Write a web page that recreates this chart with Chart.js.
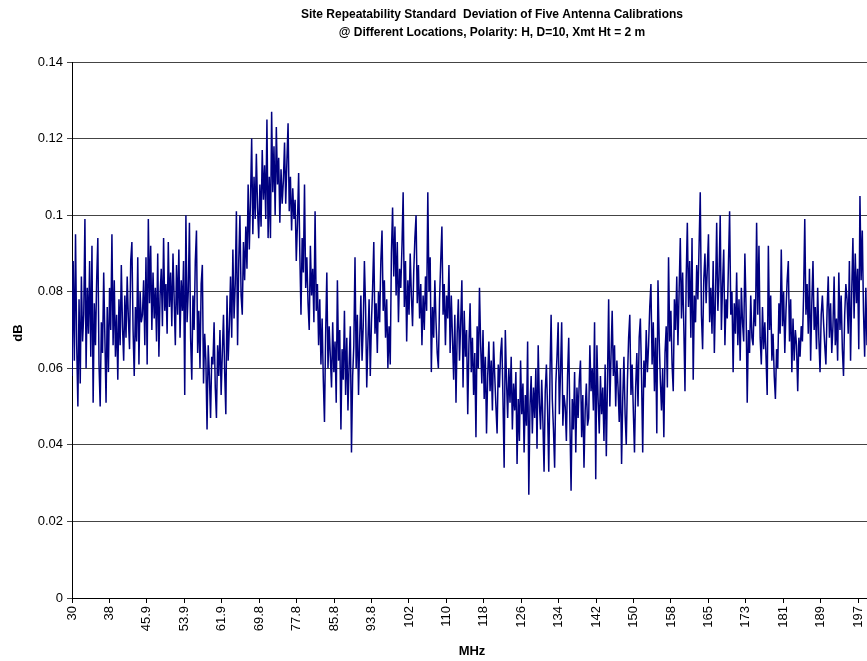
<!DOCTYPE html>
<html>
<head>
<meta charset="utf-8">
<script src="https://cdn.jsdelivr.net/npm/chart.js@4.4.1/dist/chart.umd.min.js"></script>
<style>
  body { margin: 0; background: #fff; }
  canvas { display: block; }
</style>
</head>
<body>
<canvas id="chartCanvas" width="867" height="661"></canvas>
<script>
// sweep: 30 MHz upward in 0.25 MHz steps
const FREQ_START = 30;
const FREQ_STEP = 0.25;

// standard deviation in dB, one row per 5 MHz
const stdDevDb = [
    0.058, 0.088, 0.062, 0.095, 0.066, 0.050, 0.078, 0.056, 0.084, 0.067, 0.074, 0.099, 0.060, 0.081, 0.069, 0.088, 0.063, 0.092, 0.051, 0.077,
    0.066, 0.083, 0.094, 0.061, 0.050, 0.072, 0.064, 0.085, 0.068, 0.051, 0.076, 0.059, 0.081, 0.070, 0.095, 0.066, 0.083, 0.063, 0.074, 0.057,
    0.078, 0.066, 0.087, 0.071, 0.062, 0.079, 0.068, 0.084, 0.073, 0.065, 0.088, 0.093, 0.070, 0.058, 0.076, 0.067, 0.089, 0.061, 0.080, 0.072,
    0.074, 0.083, 0.066, 0.089, 0.061, 0.099, 0.077, 0.092, 0.070, 0.085, 0.073, 0.081, 0.067, 0.090, 0.063, 0.079, 0.086, 0.071, 0.094, 0.075,
    0.082, 0.069, 0.093, 0.076, 0.085, 0.071, 0.090, 0.078, 0.066, 0.087, 0.074, 0.091, 0.068, 0.083, 0.075, 0.088, 0.053, 0.100, 0.072, 0.080,
    0.098, 0.068, 0.057, 0.079, 0.070, 0.088, 0.096, 0.064, 0.075, 0.060, 0.082, 0.087, 0.056, 0.069, 0.062, 0.044, 0.066, 0.058, 0.047, 0.063,
    0.061, 0.072, 0.055, 0.047, 0.066, 0.058, 0.070, 0.053, 0.064, 0.074, 0.059, 0.048, 0.079, 0.062, 0.071, 0.084, 0.068, 0.091, 0.073, 0.082,
    0.101, 0.066, 0.088, 0.100, 0.079, 0.074, 0.093, 0.083, 0.097, 0.086, 0.108, 0.091, 0.104, 0.120, 0.095, 0.110, 0.099, 0.116, 0.102, 0.094,
    0.108, 0.097, 0.117, 0.104, 0.113, 0.099, 0.125, 0.094, 0.110, 0.094, 0.127, 0.106, 0.118, 0.100, 0.123, 0.108, 0.115, 0.098, 0.112, 0.103,
    0.109, 0.119, 0.103, 0.114, 0.124, 0.101, 0.110, 0.096, 0.107, 0.099, 0.104, 0.088, 0.098, 0.111, 0.090, 0.074, 0.094, 0.085, 0.108, 0.081,
    0.089, 0.077, 0.070, 0.092, 0.079, 0.086, 0.072, 0.101, 0.075, 0.082, 0.066, 0.078, 0.061, 0.073, 0.057, 0.046, 0.069, 0.085, 0.060, 0.071,
    0.063, 0.055, 0.072, 0.059, 0.067, 0.051, 0.083, 0.062, 0.070, 0.044, 0.065, 0.057, 0.075, 0.053, 0.068, 0.049, 0.061, 0.071, 0.038, 0.058,
    0.066, 0.089, 0.060, 0.074, 0.053, 0.068, 0.079, 0.062, 0.071, 0.088, 0.076, 0.055, 0.067, 0.078, 0.058, 0.072, 0.081, 0.093, 0.069, 0.077,
    0.064, 0.080, 0.072, 0.088, 0.096, 0.075, 0.083, 0.068, 0.078, 0.060, 0.071, 0.061, 0.090, 0.102, 0.084, 0.097, 0.079, 0.093, 0.072, 0.086,
    0.081, 0.092, 0.106, 0.076, 0.088, 0.067, 0.083, 0.074, 0.090, 0.079, 0.071, 0.085, 0.094, 0.100, 0.077, 0.087, 0.073, 0.082, 0.066, 0.079,
    0.070, 0.084, 0.075, 0.106, 0.080, 0.089, 0.059, 0.076, 0.068, 0.083, 0.072, 0.064, 0.060, 0.078, 0.088, 0.097, 0.074, 0.082, 0.066, 0.079,
    0.073, 0.087, 0.064, 0.079, 0.068, 0.057, 0.074, 0.051, 0.069, 0.078, 0.062, 0.072, 0.083, 0.055, 0.075, 0.063, 0.070, 0.048, 0.066, 0.077,
    0.059, 0.068, 0.053, 0.064, 0.042, 0.071, 0.060, 0.081, 0.066, 0.056, 0.070, 0.052, 0.063, 0.043, 0.058, 0.067, 0.054, 0.062, 0.049, 0.067,
    0.058, 0.050, 0.043, 0.061, 0.055, 0.064, 0.068, 0.052, 0.034, 0.070, 0.057, 0.047, 0.060, 0.051, 0.063, 0.044, 0.056, 0.049, 0.059, 0.035,
    0.052, 0.041, 0.062, 0.048, 0.056, 0.038, 0.053, 0.045, 0.067, 0.027, 0.050, 0.058, 0.043, 0.055, 0.047, 0.060, 0.039, 0.066, 0.051, 0.044,
    0.057, 0.046, 0.033, 0.054, 0.061, 0.049, 0.033, 0.058, 0.074, 0.052, 0.044, 0.034, 0.056, 0.063, 0.072, 0.048, 0.059, 0.072, 0.045, 0.053,
    0.050, 0.041, 0.058, 0.068, 0.046, 0.028, 0.052, 0.044, 0.059, 0.038, 0.055, 0.047, 0.057, 0.062, 0.042, 0.053, 0.034, 0.049, 0.056, 0.045,
    0.047, 0.066, 0.054, 0.060, 0.049, 0.072, 0.031, 0.066, 0.052, 0.043, 0.058, 0.048, 0.055, 0.041, 0.061, 0.037, 0.057, 0.078, 0.050, 0.063,
    0.075, 0.058, 0.066, 0.050, 0.062, 0.055, 0.046, 0.060, 0.035, 0.052, 0.063, 0.048, 0.040, 0.057, 0.068, 0.074, 0.053, 0.061, 0.049, 0.038,
    0.055, 0.064, 0.050, 0.068, 0.073, 0.058, 0.038, 0.062, 0.055, 0.070, 0.059, 0.066, 0.076, 0.082, 0.061, 0.072, 0.054, 0.068, 0.043, 0.083,
    0.068, 0.057, 0.049, 0.060, 0.042, 0.064, 0.071, 0.055, 0.089, 0.067, 0.075, 0.061, 0.054, 0.078, 0.070, 0.084, 0.066, 0.080, 0.094, 0.073,
    0.085, 0.071, 0.054, 0.083, 0.098, 0.076, 0.088, 0.068, 0.094, 0.057, 0.079, 0.072, 0.087, 0.078, 0.092, 0.106, 0.074, 0.065, 0.083, 0.090,
    0.077, 0.086, 0.095, 0.072, 0.081, 0.069, 0.088, 0.064, 0.079, 0.098, 0.075, 0.084, 0.100, 0.070, 0.082, 0.091, 0.066, 0.078, 0.073, 0.087,
    0.101, 0.074, 0.080, 0.059, 0.077, 0.069, 0.085, 0.066, 0.078, 0.062, 0.081, 0.072, 0.067, 0.090, 0.076, 0.051, 0.070, 0.064, 0.079, 0.068,
    0.066, 0.078, 0.071, 0.098, 0.074, 0.092, 0.068, 0.061, 0.076, 0.065, 0.072, 0.063, 0.053, 0.092, 0.070, 0.079, 0.062, 0.069, 0.058, 0.052,
    0.065, 0.060, 0.077, 0.069, 0.091, 0.071, 0.080, 0.064, 0.075, 0.083, 0.088, 0.067, 0.078, 0.059, 0.073, 0.062, 0.070, 0.066, 0.054, 0.068,
    0.063, 0.071, 0.067, 0.079, 0.099, 0.074, 0.082, 0.069, 0.086, 0.062, 0.077, 0.088, 0.070, 0.076, 0.065, 0.081, 0.068, 0.059, 0.074, 0.079,
    0.072, 0.066, 0.061, 0.075, 0.084, 0.068, 0.077, 0.064, 0.071, 0.084, 0.066, 0.073, 0.062, 0.085, 0.070, 0.079, 0.065, 0.058, 0.074, 0.082,
    0.078, 0.069, 0.088, 0.062, 0.080, 0.094, 0.073, 0.090, 0.077, 0.086, 0.065, 0.105, 0.083, 0.096, 0.075, 0.063, 0.081, 0.066
];

// category axis labels shown by the original (every 80th-ish point) and where they sit
const xTickLabels = ['30', '38', '45.9', '53.9', '61.9', '69.8', '77.8', '85.8', '93.8', '102', '110',
    '118', '126', '134', '142', '150', '158', '165', '173', '181', '189', '197'];
const xTickFreqs = [30, 37.97, 45.94, 53.91, 61.88, 69.85, 77.82, 85.79, 93.76, 101.73, 109.70,
    117.66, 125.63, 133.60, 141.57, 149.54, 157.51, 165.48, 173.45, 181.42, 189.39, 197.36];
const yTickValues = [0, 0.02, 0.04, 0.06, 0.08, 0.1, 0.12, 0.14];
const yTickLabels = ['0', '0.02', '0.04', '0.06', '0.08', '0.1', '0.12', '0.14'];

const titleLines = ['Site Repeatability Standard  Deviation of Five Antenna Calibrations',
    '@ Different Locations, Polarity: H, D=10, Xmt Ht = 2 m'];

const FONT = '"Liberation Sans", Arial, sans-serif';

const points = stdDevDb.map((v, i) => ({ x: FREQ_START + i * FREQ_STEP, y: v }));

const textPlugin = {
    id: 'texts',
    afterDraw(chart) {
        const ctx = chart.ctx;
        ctx.save();
        ctx.fillStyle = '#000';
        ctx.textAlign = 'center';
        ctx.textBaseline = 'middle';
        ctx.font = 'bold 12px ' + FONT;
        ctx.fillText(titleLines[0], 492, 15);
        ctx.fillText(titleLines[1], 492, 33);

        ctx.font = 'bold 13px ' + FONT;
        ctx.fillText('MHz', 472, 651);

        ctx.translate(18, 333);
        ctx.rotate(-Math.PI / 2);
        ctx.fillText('dB', 0, 0);
        ctx.restore();
    }
};

const ctx = document.getElementById('chartCanvas').getContext('2d');
new Chart(ctx, {
    type: 'line',
    data: {
        datasets: [{
            data: points,
            borderColor: '#000080',
            borderWidth: 1.5,
            pointRadius: 0,
            tension: 0,
            fill: false
        }]
    },
    options: {
        responsive: false,
        animation: false,
        layout: { padding: { top: 62, left: 0, right: 0, bottom: 0 } },
        plugins: {
            legend: { display: false },
            tooltip: { enabled: false }
        },
        scales: {
            x: {
                type: 'linear',
                min: 30,
                max: 199.25,
                afterBuildTicks: scale => { scale.ticks = xTickFreqs.map(v => ({ value: v })); },
                afterFit: scale => {
                    scale.height = 63;
                    scale.paddingLeft = 0;
                    scale.paddingRight = 0;
                },
                ticks: {
                    autoSkip: false,
                    maxRotation: 90,
                    minRotation: 90,
                    padding: 3,
                    color: '#000',
                    font: { family: FONT, size: 13 },
                    callback: (v, i) => xTickLabels[i]
                },
                grid: { drawOnChartArea: false, tickLength: 5, color: '#000' },
                border: { color: '#000' }
            },
            y: {
                min: 0,
                max: 0.14,
                afterBuildTicks: scale => { scale.ticks = yTickValues.map(v => ({ value: v })); },
                afterFit: scale => { scale.width = 72; },
                ticks: {
                    padding: 4,
                    color: '#000',
                    font: { family: FONT, size: 13 },
                    callback: (v, i) => yTickLabels[i]
                },
                grid: { color: '#444', tickLength: 5 },
                border: { color: '#000' }
            }
        }
    },
    plugins: [textPlugin]
});
</script>
</body>
</html>
